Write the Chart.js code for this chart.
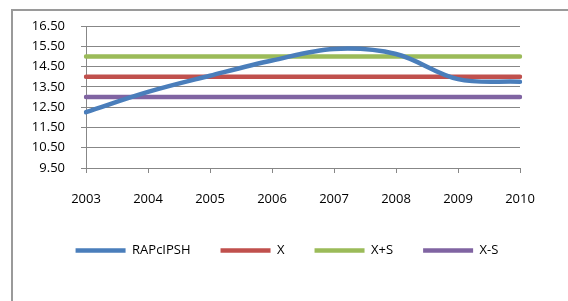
<!DOCTYPE html>
<html>
<head>
<meta charset="utf-8">
<script src="https://cdn.jsdelivr.net/npm/chart.js@4/dist/chart.umd.min.js"></script>
<style>
  html, body { margin: 0; padding: 0; background: #fff; overflow: hidden; }
  #frame { position: absolute; left: 11px; top: 9px; width: 620px; height: 400px;
           border: 2px solid #9a9a9a; border-right: none; border-bottom: none; }
  #wrap { position: absolute; left: 0; top: 0; width: 568px; height: 301px; }
</style>
</head>
<body>
<div id="frame"></div>
<div id="wrap"><canvas id="chart" width="568" height="301"></canvas></div>
<script>
var years = ["2003", "2004", "2005", "2006", "2007", "2008", "2009", "2010"];
var rapcipsh = [12.25, 13.25, 14.05, 14.8, 15.37, 15.12, 13.88, 13.75];
var xMean = [14, 14, 14, 14, 14, 14, 14, 14];
var xPlusS = [15, 15, 15, 15, 15, 15, 15, 15];
var xMinusS = [13, 13, 13, 13, 13, 13, 13, 13];
var yMin = 9.5, yMax = 16.5, yStep = 1;

var gridGray = "#878787";

function line(label, values, color, tension) {
    return {
        label: label,
        data: values,
        borderColor: color,
        backgroundColor: color,
        borderWidth: 4.5,
        borderCapStyle: "round",
        pointRadius: 0,
        pointHoverRadius: 0,
        tension: tension,
        fill: false
    };
}

// legend sits centred under the whole frame, not just the plot width
var shiftLegend = {
    id: "shiftLegend",
    afterLayout: function(chart) {
        chart.legend.left += 27;
        chart.legend.right += 27;
    }
};

new Chart(document.getElementById("chart"), {
    type: "line",
    data: {
        labels: years,
        datasets: [
            line("RAPcIPSH", rapcipsh, "#4a7ebb", 0.35),
            line("X", xMean, "#c0504d", 0),
            line("X+S", xPlusS, "#9bbb59", 0),
            line("X-S", xMinusS, "#8064a2", 0)
        ]
    },
    plugins: [shiftLegend],
    options: {
        responsive: false,
        animation: false,
        layout: { padding: { top: 26, right: 48, bottom: 34, left: 0 } },
        plugins: {
            tooltip: { enabled: false },
            legend: {
                position: "bottom",
                labels: {
                    usePointStyle: true,
                    pointStyle: "line",
                    pointStyleWidth: 50,
                    boxWidth: 50,
                    padding: 30,
                    color: "#000",
                    font: { family: "'Open Sans'", size: 13 }
                }
            }
        },
        scales: {
            x: {
                offset: false,
                afterFit: function(scale) { scale.height = 46; },
                grid: { drawOnChartArea: false, drawTicks: true, tickLength: 5, color: gridGray },
                border: { color: gridGray, width: 1 },
                ticks: { color: "#000", padding: 18, maxRotation: 0, font: { family: "'Open Sans'", size: 13 } }
            },
            y: {
                min: yMin,
                max: yMax,
                afterFit: function(scale) { scale.width = 86; },
                grid: { color: gridGray, tickLength: 5, lineWidth: 1 },
                border: { color: gridGray, width: 1 },
                ticks: {
                    stepSize: yStep,
                    autoSkip: false,
                    color: "#000",
                    padding: 16,
                    font: { family: "'Open Sans'", size: 13 },
                    callback: function(v) { return v.toFixed(2); }
                }
            }
        }
    }
});
</script>
</body>
</html>
